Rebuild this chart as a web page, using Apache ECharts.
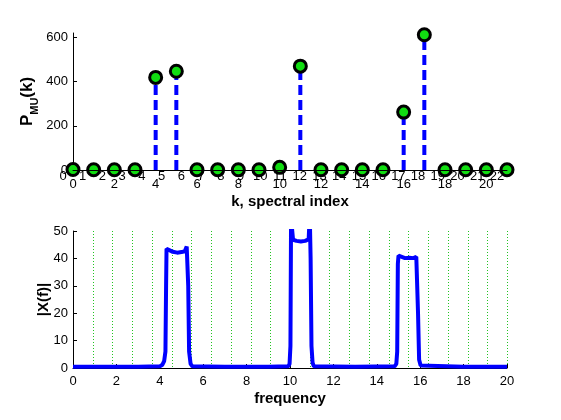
<!DOCTYPE html>
<html>
<head>
<meta charset="utf-8">
<script src="https://cdn.jsdelivr.net/npm/echarts@6/dist/echarts.min.js"></script>
<style>
  html, body { margin: 0; padding: 0; background: #fff; }
  #main { width: 561px; height: 420px; }
</style>
</head>
<body>
<div id="main"></div>
<script>
// top: stem plot of P_MU(k)
const binIndex = [0, 1, 2, 3, 4, 5, 6, 7, 8, 9, 10, 11, 12, 13, 14, 15, 16, 17, 18, 19, 20, 21];
const binPower = [2, 1, 1, 1, 419, 447, 1, 1, 1, 1, 12, 470, 1, 1, 1, 1, 262, 612, 1, 1, 1, 1];
const indexTicks = [0, 2, 4, 6, 8, 10, 12, 14, 16, 18, 20];
const overlayTicks = [0, 1, 2, 3, 4, 5, 6, 7, 8, 9, 10, 11, 12, 13, 14, 15, 16, 17, 18, 19, 20, 21, 22];
const powerTicks = [0, 200, 400, 600];

// bottom: magnitude spectrum |X(f)|
const freq = [0, 1, 2, 3, 4, 4.12, 4.2, 4.26, 4.29, 4.31, 4.34, 4.4, 4.6, 4.8, 5.0, 5.15, 5.24, 5.28, 5.31, 5.35, 5.42, 5.5,
  7, 9, 9.92, 9.98, 10.02, 10.05, 10.08, 10.14, 10.3, 10.5, 10.7, 10.86, 10.91, 10.95, 10.99, 11.04, 11.1,
  13, 14.82, 14.9, 14.94, 14.97, 15.0, 15.08, 15.3, 15.5, 15.7, 15.82, 15.86, 15.9, 15.95, 16.02, 16.1, 18, 20];
const magnitude = [0.5, 0.5, 0.5, 0.5, 0.6, 1.2, 2.5, 6, 30, 43.5, 44.2, 42.8, 42.4, 42.1, 42.3, 42.6, 44.3, 44, 30, 6, 1.5, 0.6,
  0.5, 0.5, 0.6, 1.5, 8, 56, 52, 46.8, 46.4, 46.2, 46.4, 47, 56, 40, 8, 2, 0.6,
  0.5, 0.6, 1.5, 6, 38, 41, 40.3, 40.1, 40.2, 40.1, 40.6, 41, 20, 3, 0.9, 0.5, 0.5, 0.5];
const freqTicks = [0, 2, 4, 6, 8, 10, 12, 14, 16, 18, 20];
const magTicks = [0, 10, 20, 30, 40, 50];
const gridLineTicks = [1, 2, 3, 4, 5, 6, 7, 8, 9, 10, 11, 12, 13, 14, 15, 16, 17, 18, 19, 20, 21, 22];

const font = 'Liberation Sans, Arial, sans-serif';
const axisBlack = { lineStyle: { color: '#000', width: 1 } };

const myChart = echarts.init(document.getElementById('main'));

function renderStem(params, api) {
    const k = api.value(0);
    const p0 = api.coord([k, 0]);
    const p1 = api.coord([k, api.value(1)]);
    return {
        type: 'line',
        shape: { x1: p0[0], y1: p0[1], x2: p1[0], y2: p1[1] },
        style: { stroke: '#0000ff', lineWidth: 4, lineDash: [10, 5] }
    };
}

// vertical dotted guide lines, placed on the hidden 0..22 axis
function renderGuide(params, api) {
    const b = api.value(0);
    const top = api.coord([b, 50]);
    const bottom = api.coord([b, 0]);
    return {
        type: 'line',
        shape: { x1: Math.round(top[0]) + 0.5, y1: top[1], x2: Math.round(bottom[0]) + 0.5, y2: bottom[1] },
        style: { stroke: '#22c422', lineWidth: 1, lineDash: [1, 2] }
    };
}

const option = {
    animation: false,
    backgroundColor: '#fff',
    textStyle: { fontFamily: font },
    grid: [
        { left: 73, top: 33, width: 434, height: 137 },
        { left: 73, top: 231, width: 434, height: 137 }
    ],
    xAxis: [
        {
            gridIndex: 0, type: 'value', min: 0, max: 21, z: 3,
            axisLine: axisBlack, axisTick: { show: false }, splitLine: { show: false },
            axisLabel: { customValues: indexTicks, color: '#000', fontSize: 13, margin: 8 },
            name: 'k, spectral index', nameLocation: 'middle', nameGap: 24,
            nameTextStyle: { color: '#000', fontSize: 15, fontWeight: 'bold' }
        },
        {
            gridIndex: 0, type: 'value', min: 0, max: 22, position: 'bottom',
            axisLine: { show: false }, axisTick: { show: false }, splitLine: { show: false },
            axisLabel: { customValues: overlayTicks, color: '#000', fontSize: 13, margin: 0, padding: [0, 20, 0, 0] }
        },
        {
            gridIndex: 1, type: 'value', min: 0, max: 20, z: 3,
            axisLine: axisBlack, splitLine: { show: false },
            axisTick: { inside: true, length: 4, customValues: freqTicks, lineStyle: { color: '#000' } },
            axisLabel: { customValues: freqTicks, color: '#000', fontSize: 13, margin: 7 },
            name: 'frequency', nameLocation: 'middle', nameGap: 23,
            nameTextStyle: { color: '#000', fontSize: 15, fontWeight: 'bold' }
        },
        {
            gridIndex: 1, type: 'value', min: 0, max: 22, show: false
        }
    ],
    yAxis: [
        {
            gridIndex: 0, type: 'value', min: 0, max: 620,
            axisLine: { show: true, lineStyle: { color: '#000' } }, splitLine: { show: false },
            axisTick: { show: true, inside: true, length: 4, customValues: powerTicks, lineStyle: { color: '#000' } },
            axisLabel: { customValues: powerTicks, color: '#000', fontSize: 13, margin: 5 },
            name: '{b|P}{s|MU}{b|(k)}', nameLocation: 'middle', nameRotate: 90, nameGap: 33,
            nameMoveOverlap: false,
            nameTextStyle: {
                rich: {
                    b: { fontSize: 17, fontWeight: 'bold', color: '#000', fontFamily: font, verticalAlign: 'top' },
                    s: { fontSize: 11, fontWeight: 'bold', color: '#000', fontFamily: font, verticalAlign: 'top', padding: [10, 0, 0, 0] }
                }
            }
        },
        {
            gridIndex: 1, type: 'value', min: 0, max: 50,
            axisLine: { show: true, lineStyle: { color: '#000' } }, splitLine: { show: false },
            axisTick: { show: true, inside: true, length: 4, customValues: magTicks, lineStyle: { color: '#000' } },
            axisLabel: { customValues: magTicks, color: '#000', fontSize: 13, margin: 5 },
            name: '|X(f)|', nameLocation: 'middle', nameRotate: 90, nameGap: 22,
            nameMoveOverlap: false,
            nameTextStyle: { color: '#000', fontSize: 15, fontWeight: 'bold' }
        }
    ],
    series: [
        {
            type: 'custom', xAxisIndex: 0, yAxisIndex: 0, z: 2,
            renderItem: renderStem,
            data: binIndex.map((k, i) => [k, binPower[i]])
        },
        {
            type: 'scatter', xAxisIndex: 0, yAxisIndex: 0, z: 2,
            symbol: 'circle', symbolSize: 12,
            itemStyle: { color: '#11dd11', borderColor: '#000', borderWidth: 3, opacity: 1 },
            data: binIndex.map((k, i) => [k, binPower[i]])
        },
        {
            type: 'custom', xAxisIndex: 3, yAxisIndex: 1, z: 1,
            renderItem: renderGuide,
            data: gridLineTicks.map(b => [b])
        },
        {
            type: 'line', xAxisIndex: 2, yAxisIndex: 1, z: 4,
            showSymbol: false, clip: true,
            lineStyle: { color: '#0000ff', width: 4 },
            data: freq.map((f, i) => [f, magnitude[i]])
        }
    ]
};

option && myChart.setOption(option);
</script>
</body>
</html>
